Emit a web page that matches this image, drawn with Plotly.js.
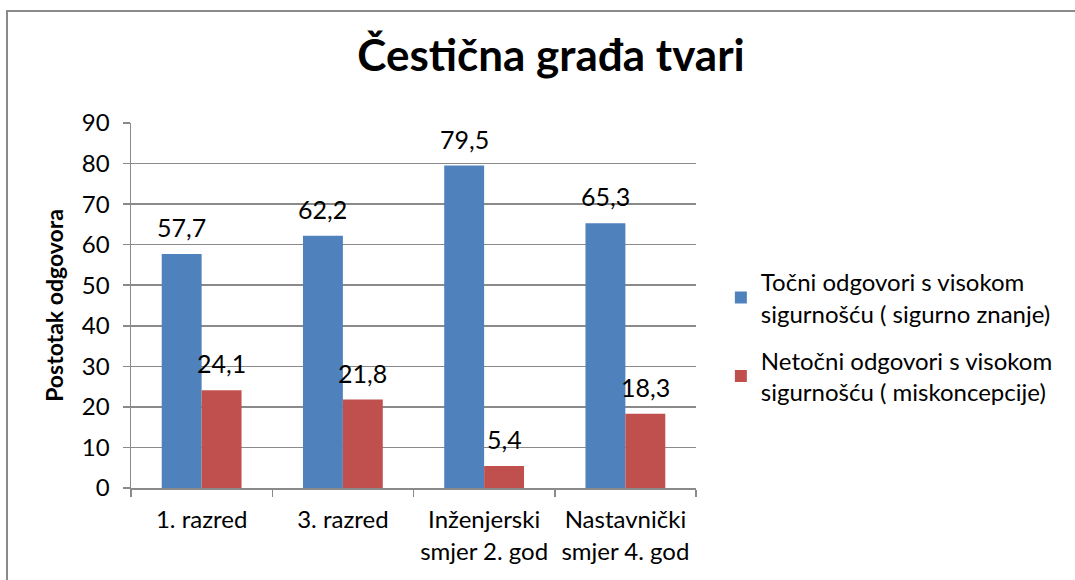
<!DOCTYPE html>
<html>
<head>
<meta charset="utf-8">
<script src="https://cdn.plot.ly/plotly-3.0.1.min.js"></script>
<style>
  html, body { margin: 0; padding: 0; width: 1075px; height: 580px; overflow: hidden; background: #fff; }
  #chart { position: absolute; left: 0; top: 0; width: 1075px; height: 580px; }
  #frame { position: absolute; left: 6px; top: 10px; width: 2000px; height: 2000px;
           border-left: 2px solid #8a8a8a; border-top: 2px solid #8a8a8a; pointer-events: none; }
</style>
</head>
<body>
<div id="chart"></div>
<div id="frame"></div>
<script>
const categories = ["1. razred", "3. razred", "Inženjerski<br>smjer 2. god", "Nastavnički<br>smjer 4. god"];
const seriesNames = ["Točni odgovori s visokom<br>sigurnošću ( sigurno znanje)",
                     "Netočni odgovori s visokom<br>sigurnošću ( miskoncepcije)"];
const correctValues = [57.7, 62.2, 79.5, 65.3];
const misconceptionValues = [24.1, 21.8, 5.4, 18.3];
const yTicks = [0, 10, 20, 30, 40, 50, 60, 70, 80, 90];

const FONT = "Lato, 'Open Sans', sans-serif";
const colors = ["#4F81BD", "#C0504D"];
const bargap = 0.435;
const barW = (1 - bargap) / 2;

const fmt = v => v.toFixed(1).replace(".", ",");

const traces = [correctValues, misconceptionValues].map((vals, k) => ({
  type: "bar",
  name: seriesNames[k],
  legendgroup: "g" + k,
  x: categories,
  y: vals,
  marker: { color: colors[k], line: { width: 0 } },
  hoverinfo: "none"
}));

const annotations = [];
[correctValues, misconceptionValues].forEach((vals, k) => {
  vals.forEach((v, i) => {
    annotations.push({
      xref: "x", yref: "y",
      x: i + (k === 0 ? -barW / 2 : barW / 2),
      y: v,
      text: fmt(v),
      showarrow: false,
      yanchor: "bottom",
      yshift: 10,
      font: { family: FONT, size: 25, color: "#000" }
    });
  });
});

const layout = {
  width: 1075, height: 580,
  margin: { l: 131, r: 379, t: 123, b: 92 },
  paper_bgcolor: "rgba(0,0,0,0)",
  plot_bgcolor: "rgba(0,0,0,0)",
  font: { family: FONT, size: 24, color: "#000" },
  title: {
    text: "<b>Čestična građa tvari</b>",
    font: { family: FONT, size: 44, color: "#000" },
    xref: "container", yref: "container",
    x: 0.5126, xanchor: "center",
    y: 0.905, yanchor: "middle"
  },
  barmode: "group",
  bargap: bargap,
  bargroupgap: 0,
  showlegend: true,
  legend: {
    x: 1.044, xanchor: "left",
    y: 0.625, yanchor: "top",
    font: { family: FONT, size: 24, color: "#000" },
    tracegroupgap: 13,
    bgcolor: "rgba(0,0,0,0)"
  },
  xaxis: {
    type: "category",
    tickson: "boundaries",
    ticks: "outside", ticklen: 7, tickwidth: 1.5, tickcolor: "#8a8a8a",
    showline: true, linecolor: "#8a8a8a", linewidth: 1.5,
    showgrid: false,
    ticklabelstandoff: 10,
    tickfont: { family: FONT, size: 24, color: "#000" },
    fixedrange: true
  },
  yaxis: {
    range: [0, 90],
    tickvals: yTicks,
    ticktext: yTicks.map(String),
    ticks: "outside", ticklen: 7, tickwidth: 1.5, tickcolor: "#8a8a8a",
    showline: true, linecolor: "#8a8a8a", linewidth: 1.5,
    showgrid: true, gridcolor: "#8a8a8a", gridwidth: 1.5,
    zeroline: false,
    ticklabelstandoff: 8,
    tickfont: { family: FONT, size: 24, color: "#000" },
    title: { text: "<b>Postotak odgovora</b>", font: { family: FONT, size: 23, color: "#000" }, standoff: 12 },
    fixedrange: true
  },
  annotations: annotations
};

Plotly.newPlot("chart", traces, layout, { displayModeBar: false, staticPlot: true });
</script>
</body>
</html>
